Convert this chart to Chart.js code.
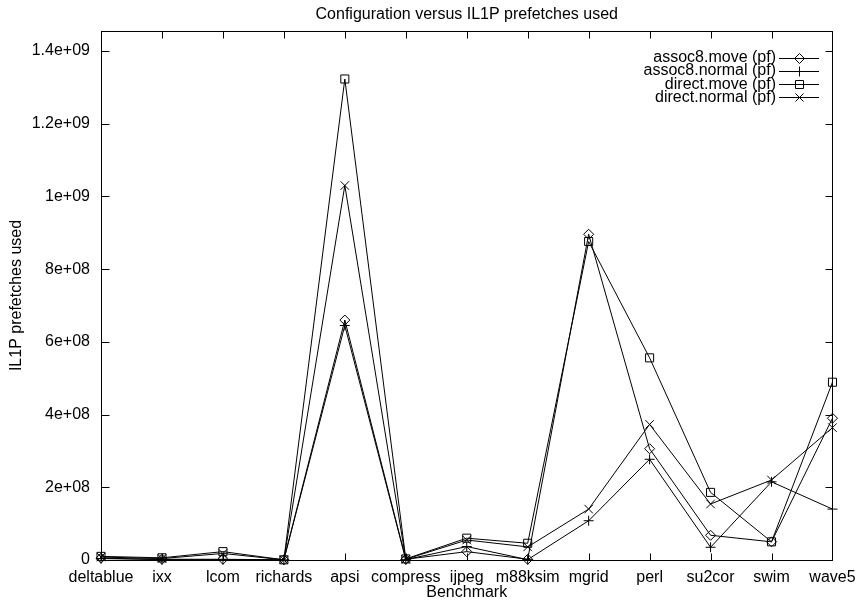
<!DOCTYPE html>
<html>
<head>
<meta charset="utf-8">
<script src="https://cdn.jsdelivr.net/npm/chart.js@4/dist/chart.umd.min.js"></script>
<style>
  body { margin: 0; background: #fff; }
  #wrap { width: 864px; height: 605px; }
</style>
</head>
<body>
<div id="wrap"><canvas id="myChart" width="864" height="605"></canvas></div>
<script>
var categories = ['deltablue', 'ixx', 'lcom', 'richards', 'apsi', 'compress', 'ijpeg', 'm88ksim', 'mgrid', 'perl', 'su2cor', 'swim', 'wave5'];

var assoc8Move   = [5e6, 2e6, 2e6, 0.5e6, 660e6, 2e6, 23e6, 2e6, 896e6, 306e6, 68e6, 50e6, 390e6];
var assoc8Normal = [4e6, 1e6, 1e6, 0.5e6, 645e6, 1e6, 37e6, 1e6, 108e6, 277e6, 35e6, 215e6, 140e6];
var directMove   = [10e6, 6e6, 23e6, 0.5e6, 1323e6, 3e6, 60e6, 46e6, 876e6, 556e6, 186e6, 50e6, 489e6];
var directNormal = [8e6, 4e6, 18e6, 0.5e6, 1030e6, 2e6, 55e6, 36e6, 140e6, 373e6, 154e6, 220e6, 364e6];

var seriesNames = ['assoc8.move (pf)', 'assoc8.normal (pf)', 'direct.move (pf)', 'direct.normal (pf)'];
var yTicks = [0, 2e8, 4e8, 6e8, 8e8, 1e9, 1.2e9, 1.4e9];
var yTickLabels = ['0', '2e+08', '4e+08', '6e+08', '8e+08', '1e+09', '1.2e+09', '1.4e+09'];
var yMax = 1.455e9;

var FONT = { family: "'Liberation Sans', Arial, Helvetica, sans-serif", size: 16 };

// marker drawing (gnuplot-like open symbols)
function drawMarker(ctx, style, x, y) {
  ctx.beginPath();
  if (style === 'rect') {
    ctx.rect(x - 4, y - 4, 8, 8);
  } else if (style === 'rectRot') {
    ctx.moveTo(x - 5, y); ctx.lineTo(x, y - 5); ctx.lineTo(x + 5, y); ctx.lineTo(x, y + 5); ctx.closePath();
  } else if (style === 'cross') {
    ctx.moveTo(x - 5, y); ctx.lineTo(x + 5, y); ctx.moveTo(x, y - 5); ctx.lineTo(x, y + 5);
  } else {
    ctx.moveTo(x - 4, y - 4); ctx.lineTo(x + 4, y + 4); ctx.moveTo(x - 4, y + 4); ctx.lineTo(x + 4, y - 4);
  }
  ctx.stroke();
}

// frame, inward ticks on all sides, and the gnuplot style key
var gnuFrame = {
  id: 'gnuFrame',
  afterDraw: function (chart) {
    var ctx = chart.ctx, a = chart.chartArea;
    var xs = chart.scales.x, ys = chart.scales.y;
    var L = Math.round(a.left) + 0.5, R = Math.round(a.right) + 0.5;
    var T = Math.round(a.top) + 0.5, B = Math.round(a.bottom) + 0.5;
    ctx.save();
    ctx.strokeStyle = '#000';
    ctx.lineWidth = 1;
    ctx.strokeRect(L, T, R - L, B - T);
    ctx.beginPath();
    xs.ticks.forEach(function (t, i) {
      var px = Math.round(xs.getPixelForTick(i)) + 0.5;
      ctx.moveTo(px, B); ctx.lineTo(px, B - 7);
      ctx.moveTo(px, T); ctx.lineTo(px, T + 7);
    });
    ys.ticks.forEach(function (t, i) {
      var py = Math.round(ys.getPixelForTick(i)) + 0.5;
      ctx.moveTo(L, py); ctx.lineTo(L + 8, py);
      ctx.moveTo(R, py); ctx.lineTo(R - 7, py);
    });
    ctx.stroke();

    // key
    ctx.font = FONT.size + 'px ' + FONT.family;
    ctx.textAlign = 'right';
    ctx.textBaseline = 'middle';
    ctx.fillStyle = '#000';
    chart.data.datasets.forEach(function (ds, i) {
      var y = 57.5 + i * 13.3;
      ctx.fillText(ds.label, 776, y);
      ctx.beginPath();
      ctx.moveTo(779, Math.round(y) + 0.5); ctx.lineTo(819, Math.round(y) + 0.5);
      ctx.stroke();
      drawMarker(ctx, ds.pointStyle, 799.5, Math.round(y) + 0.5);
    });
    ctx.restore();
  }
};

function makeSet(label, data, style, radius) {
  return {
    label: label,
    data: data,
    borderColor: '#000',
    backgroundColor: '#000',
    borderWidth: 1,
    tension: 0,
    pointStyle: style,
    pointRadius: radius,
    pointBorderWidth: 1,
    pointBorderColor: '#000',
    pointBackgroundColor: 'rgba(0,0,0,0)',
    clip: false
  };
}

function createChart() {
  var ctx = document.getElementById('myChart');
  new Chart(ctx, {
    type: 'line',
    data: {
      labels: categories,
      datasets: [
        makeSet(seriesNames[0], assoc8Move, 'rectRot', 5),
        makeSet(seriesNames[1], assoc8Normal, 'cross', 5),
        makeSet(seriesNames[2], directMove, 'rect', 5.7),
        makeSet(seriesNames[3], directNormal, 'crossRot', 6)
      ]
    },
    options: {
      responsive: false,
      animation: false,
      layout: { padding: { left: 0, right: 27, top: 0, bottom: 0 } },
      plugins: {
        legend: { display: false },
        tooltip: { enabled: false },
        title: {
          display: true,
          fullSize: false,
          text: 'Configuration versus IL1P prefetches used',
          color: '#000',
          font: { family: FONT.family, size: 16, weight: 'normal' },
          padding: { top: 5.2, bottom: 6.6 }
        }
      },
      scales: {
        x: {
          type: 'category',
          offset: false,
          grid: { display: true, drawOnChartArea: false, drawTicks: false },
          border: { display: false },
          ticks: { color: '#000', font: FONT, padding: 8.4, autoSkip: false, maxRotation: 0 },
          title: { display: true, text: 'Benchmark', color: '#000', font: FONT, padding: { top: 0, bottom: 2.4 } },
          afterFit: function (s) { s.height = 45; }
        },
        y: {
          min: 0,
          max: yMax,
          grid: { display: true, drawOnChartArea: false, drawTicks: false },
          border: { display: false },
          afterBuildTicks: function (s) { s.ticks = yTicks.map(function (v) { return { value: v }; }); },
          ticks: {
            color: '#000',
            font: FONT,
            padding: 11,
            callback: function (v) {
              var k = yTicks.indexOf(v);
              return k >= 0 ? yTickLabels[k] : '';
            }
          },
          title: { display: true, text: 'IL1P prefetches used', color: '#000', font: FONT, padding: { top: 6.9, bottom: 0 } },
          afterFit: function (s) { s.width = 101; }
        }
      }
    },
    plugins: [gnuFrame]
  });
}

window.onload = createChart;
</script>
</body>
</html>
